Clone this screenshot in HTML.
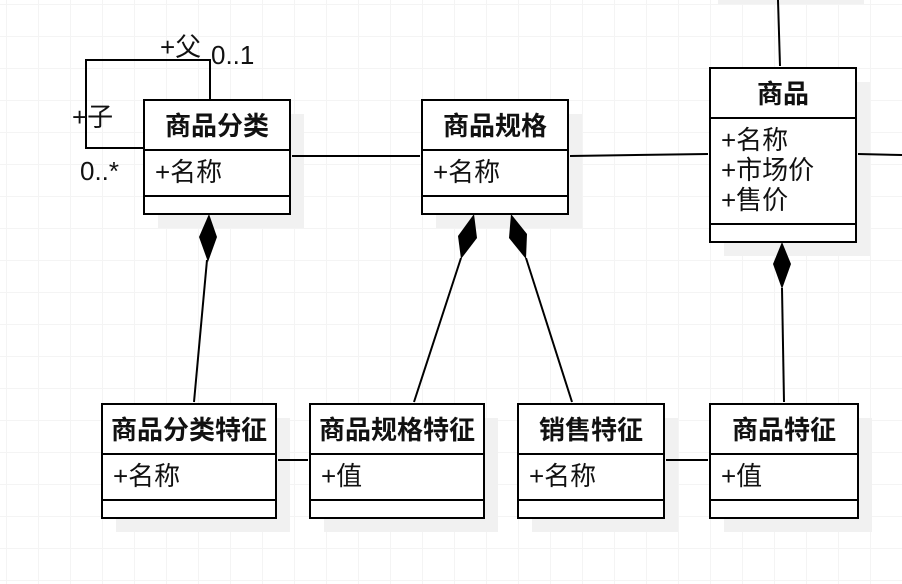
<!DOCTYPE html>
<html>
<head>
<meta charset="utf-8">
<style>
html,body{margin:0;padding:0;background:#fff;width:902px;height:584px;overflow:hidden}
svg{display:block}
text{font-family:"Liberation Sans","Noto Sans CJK SC",sans-serif;fill:#111;font-size:26px}
.t{font-weight:bold;text-anchor:middle}
.b{fill:#fff;stroke:#000;stroke-width:2}
.l{stroke:#000;stroke-width:2;fill:none}
.s{fill:#f1f1f1}
</style>
</head>
<body>
<svg width="902" height="584" viewBox="0 0 902 584" xmlns="http://www.w3.org/2000/svg">
<defs>
<pattern id="g" x="6" y="4" width="32" height="32" patternUnits="userSpaceOnUse">
<path d="M0.5 0V32M0 0.5H32" stroke="#f4f4f4" stroke-width="1" fill="none"/>
</pattern>
</defs>
<rect width="902" height="584" fill="#fff"/>
<rect width="902" height="584" fill="url(#g)"/>

<!-- shadows -->
<rect class="s" x="158" y="114" width="146" height="114"/>
<rect class="s" x="436" y="114" width="146" height="114"/>
<rect class="s" x="724" y="82" width="146" height="174"/>
<rect class="s" x="718" y="-10" width="146" height="14"/>
<rect class="s" x="116" y="418" width="174" height="114"/>
<rect class="s" x="324" y="418" width="174" height="114"/>
<rect class="s" x="532" y="418" width="146" height="114"/>
<rect class="s" x="724" y="418" width="148" height="114"/>

<!-- connectors -->
<path class="l" d="M144 148H86V60H210V100"/>
<path class="l" d="M292 156H420"/>
<path class="l" d="M570 156L708 154"/>
<path class="l" d="M858 154L902 155"/>
<path class="l" d="M778 0L780 66"/>
<path class="l" d="M278 460H308"/>
<path class="l" d="M666 460H708"/>
<path class="l" d="M207 260L194 402"/>
<path class="l" d="M461 258L414 402"/>
<path class="l" d="M526 258L572 402"/>
<path class="l" d="M782 288L784 402"/>

<!-- diamonds -->
<polygon points="209,214 217,237 208,262 199,237" fill="#000"/>
<polygon points="474,214 477,238 461,259 458,236" fill="#000"/>
<polygon points="511,214 527,234 526,259 509,238" fill="#000"/>
<polygon points="782,242 791,264 782,289 773,264" fill="#000"/>

<!-- boxes -->
<rect class="b" x="144" y="100" width="146" height="114"/>
<path class="l" d="M144 150H290M144 196H290"/>
<rect class="b" x="422" y="100" width="146" height="114"/>
<path class="l" d="M422 150H568M422 196H568"/>
<rect class="b" x="710" y="68" width="146" height="174"/>
<path class="l" d="M710 118H856M710 224H856"/>
<rect class="b" x="102" y="404" width="174" height="114"/>
<path class="l" d="M102 454H276M102 500H276"/>
<rect class="b" x="310" y="404" width="174" height="114"/>
<path class="l" d="M310 454H484M310 500H484"/>
<rect class="b" x="518" y="404" width="146" height="114"/>
<path class="l" d="M518 454H664M518 500H664"/>
<rect class="b" x="710" y="404" width="148" height="114"/>
<path class="l" d="M710 454H858M710 500H858"/>

<!-- titles -->
<text class="t" x="217" y="135">商品分类</text>
<text class="t" x="495" y="135">商品规格</text>
<text class="t" x="783" y="103">商品</text>
<text class="t" x="189" y="439">商品分类特征</text>
<text class="t" x="397" y="439">商品规格特征</text>
<text class="t" x="591" y="439">销售特征</text>
<text class="t" x="784" y="439">商品特征</text>

<!-- attributes -->
<text x="155" y="181">+名称</text>
<text x="433" y="181">+名称</text>
<text x="721" y="149">+名称</text>
<text x="721" y="179">+市场价</text>
<text x="721" y="209">+售价</text>
<text x="113" y="485">+名称</text>
<text x="321" y="485">+值</text>
<text x="529" y="485">+名称</text>
<text x="721" y="485">+值</text>

<!-- end labels -->
<text x="160" y="56">+父</text>
<text x="211" y="64">0..1</text>
<text x="72" y="126">+子</text>
<text x="80" y="180">0..*</text>
</svg>
</body>
</html>
